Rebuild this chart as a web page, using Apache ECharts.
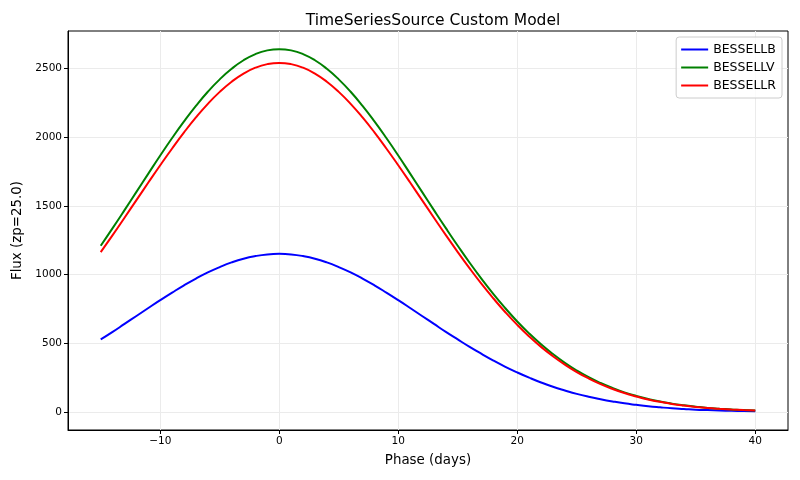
<!DOCTYPE html>
<html>
<head>
<meta charset="utf-8">
<script src="https://cdn.jsdelivr.net/npm/echarts@6/dist/echarts.min.js"></script>
<style>
  html, body { margin: 0; padding: 0; background: #fff; }
  #chart { width: 800px; height: 480px; }
</style>
</head>
<body>
<div id="chart"></div>
<script>
// phase in days, flux values
var phase = [-15, -14, -13, -12, -11, -10, -9, -8, -7, -6, -5, -4, -3, -2, -1,
             0, 1, 2, 3, 4, 5, 6, 7, 8, 9, 10, 11, 12, 13, 14, 15, 16, 17, 18, 19,
             20, 21, 22, 23, 24, 25, 26, 27, 28, 29, 30, 31, 32, 33, 34, 35, 36, 37, 38, 39, 40];
var fluxB = [527, 582, 640, 698, 756, 813, 868, 921, 970, 1015, 1054, 1088, 1115, 1134, 1146,
             1150, 1146, 1134, 1115, 1088, 1054, 1015, 970, 921, 868, 813, 756, 698, 640, 582, 527,
             473, 422, 373, 328, 287, 249, 214, 183, 156, 131, 110, 92, 76, 62, 51,
             41, 33, 26, 21, 16, 13, 10, 8, 6, 4];
var fluxV = [1209, 1337, 1468, 1601, 1734, 1866, 1993, 2114, 2227, 2330, 2420, 2497, 2559, 2604, 2631,
             2640, 2631, 2604, 2559, 2497, 2420, 2330, 2227, 2114, 1993, 1866, 1734, 1601, 1468, 1337, 1209,
             1085, 968, 857, 754, 658, 571, 492, 421, 357, 301, 252, 210, 174, 142, 116,
             94, 75, 60, 48, 38, 29, 23, 18, 13, 10];
var fluxR = [1163, 1286, 1413, 1541, 1669, 1795, 1917, 2034, 2143, 2242, 2329, 2403, 2462, 2505, 2531,
             2540, 2531, 2505, 2462, 2403, 2329, 2242, 2143, 2034, 1917, 1795, 1669, 1541, 1413, 1286, 1163,
             1044, 931, 825, 725, 633, 549, 473, 405, 344, 290, 243, 202, 167, 137, 112,
             90, 73, 58, 46, 36, 28, 22, 17, 13, 10];
var xTicks = [-10, 0, 10, 20, 30, 40];
var yTicks = [0, 500, 1000, 1500, 2000, 2500];

function pairs(ys) {
    return phase.map(function (p, i) { return [p, ys[i]]; });
}

var myChart = echarts.init(document.getElementById('chart'));
var font = 'DejaVu Sans';

function line(name, color, ys) {
    return {
        name: name,
        type: 'line',
        data: pairs(ys),
        smooth: true,
        showSymbol: false,
        lineStyle: { color: color, width: 2 },
        itemStyle: { color: color },
        animation: false
    };
}

myChart.setOption({
    title: {
        text: 'TimeSeriesSource Custom Model',
        left: 428,
        top: 8,
        textAlign: 'center',
        textStyle: { fontFamily: font, fontSize: 15.5, fontWeight: 'normal', color: '#000' }
    },
    grid: {
        left: 68, right: 12, top: 31, bottom: 50,
        show: true, borderColor: '#000', borderWidth: 1
    },
    legend: {
        right: 18, top: 37,
        orient: 'vertical',
        itemWidth: 27, itemHeight: 2, itemGap: 5,
        padding: [6, 6, 6, 5],
        borderColor: '#ccc', borderWidth: 1, borderRadius: 3,
        backgroundColor: 'rgba(255,255,255,0.8)',
        icon: 'rect',
        textStyle: { fontFamily: font, fontSize: 12.5, color: '#000' },
        data: ['BESSELLB', 'BESSELLV', 'BESSELLR']
    },
    xAxis: {
        type: 'value',
        min: -17.75, max: 42.75,
        name: 'Phase (days)',
        nameLocation: 'middle',
        nameGap: 24,
        nameTextStyle: { fontFamily: font, fontSize: 13.4, color: '#000' },
        axisLine: { show: true, onZero: false, lineStyle: { color: '#000' } },
        axisTick: { show: true, inside: false, length: 4, customValues: xTicks, lineStyle: { color: '#000' } },
        axisLabel: {
            customValues: xTicks, fontFamily: font, fontSize: 10.5, color: '#000', margin: 6,
            formatter: function (v) { return v < 0 ? '\u2212' + (-v) : String(v); }
        },
        splitLine: { show: true, lineStyle: { color: '#ebebeb', width: 1 } }
    },
    yAxis: {
        type: 'value',
        min: -132, max: 2772,
        name: 'Flux (zp=25.0)',
        nameLocation: 'middle',
        nameGap: 44,
        nameTextStyle: { fontFamily: font, fontSize: 13.4, color: '#000' },
        axisLine: { show: true, onZero: false, lineStyle: { color: '#000' } },
        axisTick: { show: true, inside: false, length: 4, customValues: yTicks, lineStyle: { color: '#000' } },
        axisLabel: {
            customValues: yTicks, fontFamily: font, fontSize: 10.5, color: '#000', margin: 6,
            formatter: function (v) { return String(v); }
        },
        splitLine: { show: true, lineStyle: { color: '#ebebeb', width: 1 } }
    },
    series: [
        line('BESSELLB', '#0000ff', fluxB),
        line('BESSELLV', '#008000', fluxV),
        line('BESSELLR', '#ff0000', fluxR)
    ]
});
</script>
</body>
</html>
